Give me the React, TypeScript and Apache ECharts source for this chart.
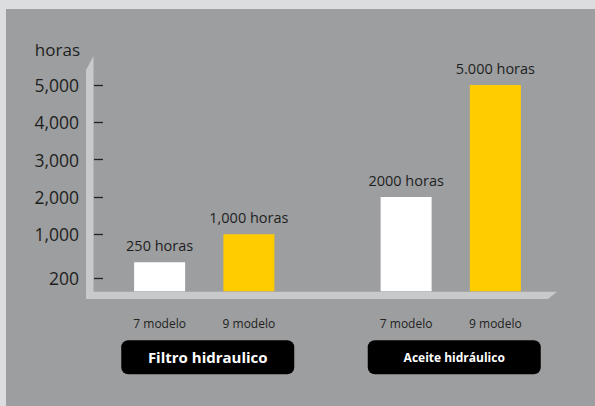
import React, { useEffect, useRef } from "react";
import * as echarts from "echarts";

// ---- data ----
const categories = ["Filtro hidraulico", "Aceite hidráulico"];
const modelNames = ["7 modelo", "9 modelo"];
const hours7 = [250, 2000];
const hours9 = [1000, 5000];
const barLabels7 = ["250 horas", "2000 horas"];
const barLabels9 = ["1,000 horas", "5.000 horas"];
const tickValues = [-170, 1000, 2000, 3000, 4000, 5000];
const tickLabels = ["200", "1,000", "2,000", "3,000", "4,000", "5,000"];
// the drawn axis floor sits below zero (bars rise from the platform)
const axisFloor = -530;
const axisCeil = 5670;

const FONT = "'Open Sans', 'Noto Sans', sans-serif";
const WHITE = "#ffffff";
const YELLOW = "#ffcc00";

export default function App() {
  const ref = useRef<HTMLDivElement>(null);
  useEffect(() => {
    if (!ref.current) return;
    const chart = echarts.init(ref.current, undefined, { renderer: "svg" });
    const shift = (v: number) => v - axisFloor;
    const shiftedTicks = tickValues.map(shift);
    const baseSeries = (name: string, stack: string) => ({
      type: "bar",
      name: name + " label",
      stack,
      data: categories.map(() => 0),
      barWidth: 51,
      barGap: "75%",
      silent: true,
      itemStyle: { color: "rgba(0,0,0,0)" },
      label: {
        show: true,
        position: "bottom",
        distance: 26,
        formatter: () => name,
        fontFamily: FONT,
        fontSize: 12,
        color: "#222",
      },
    });
    const valueSeries = (name: string, stack: string, color: string, vals: number[], labels: string[]) => ({
      type: "bar",
      name,
      stack,
      data: vals.map(shift),
      barWidth: 51,
      barGap: "75%",
      silent: true,
      itemStyle: { color },
      label: {
        show: true,
        position: "top",
        distance: 9,
        formatter: (p: any) => labels[p.dataIndex],
        fontFamily: FONT,
        fontSize: 14.5,
        color: "#1e1e1e",
      },
    });
    chart.setOption({
      animation: false,
      backgroundColor: "#dcdddf",
      textStyle: { fontFamily: FONT },
      graphic: [
        {
          type: "rect",
          z: -10,
          silent: true,
          shape: { x: 6, y: 9, width: 589, height: 397 },
          style: { fill: "#9d9ea0" },
        },
        {
          type: "polygon",
          z: 1,
          silent: true,
          shape: { points: [[86, 70], [93.5, 56], [93.5, 299], [86, 299]] },
          style: { fill: "#c8c9cb" },
        },
        {
          type: "polygon",
          z: 1,
          silent: true,
          shape: { points: [[86, 291.7], [557, 291.7], [548, 299], [86, 299]] },
          style: { fill: "#c8c9cb" },
        },
      ],
      grid: { left: 81, right: 21, top: 60, bottom: 114.7, containLabel: false, outerBoundsMode: "none" },
      xAxis: {
        type: "category",
        data: categories,
        axisLine: { show: false },
        axisTick: { show: false },
        axisLabel: {
          margin: 49,
          padding: [0, 0, 0, 7],
          formatter: (v: string) => (v === categories[0] ? `{f|${v}}` : `{a|${v}}`),
          rich: {
            f: {
              fontFamily: FONT,
              fontSize: 15,
              fontWeight: "bold",
              color: "#fff",
              backgroundColor: "#000",
              borderRadius: 7,
              width: 173,
              height: 34,
              lineHeight: 34,
              align: "center",
            },
            a: {
              fontFamily: FONT,
              fontSize: 12,
              fontWeight: "bold",
              color: "#fff",
              backgroundColor: "#000",
              borderRadius: 7,
              width: 173,
              height: 34,
              lineHeight: 34,
              align: "center",
            },
          },
        },
      },
      yAxis: {
        type: "value",
        min: 0,
        max: shift(axisCeil),
        offset: -13,
        name: "horas",
        nameLocation: "end",
        nameGap: 2,
        nameTextStyle: {
          fontFamily: FONT,
          fontSize: 17,
          color: "#1e1e1e",
          align: "right",
          padding: [0, 14, 0, 0],
        },
        axisLine: { show: false },
        splitLine: { show: false },
        axisTick: {
          show: true,
          inside: true,
          length: 9,
          customValues: shiftedTicks,
          lineStyle: { color: "#222", width: 1.3 },
        },
        axisLabel: {
          customValues: shiftedTicks,
          margin: 15,
          fontFamily: FONT,
          fontSize: 17.5,
          color: "#1e1e1e",
          formatter: (v: number) => {
            const i = shiftedTicks.indexOf(v);
            return i >= 0 ? tickLabels[i] : "";
          },
        },
      },
      series: [
        baseSeries(modelNames[0], "s7"),
        valueSeries(modelNames[0], "s7", WHITE, hours7, barLabels7),
        baseSeries(modelNames[1], "s9"),
        valueSeries(modelNames[1], "s9", YELLOW, hours9, barLabels9),
      ],
    });
    return () => chart.dispose();
  }, []);
  return (
    <div
      ref={ref}
      style={{ position: "fixed", left: 0, top: 0, width: 595, height: 406 }}
    />
  );
}
